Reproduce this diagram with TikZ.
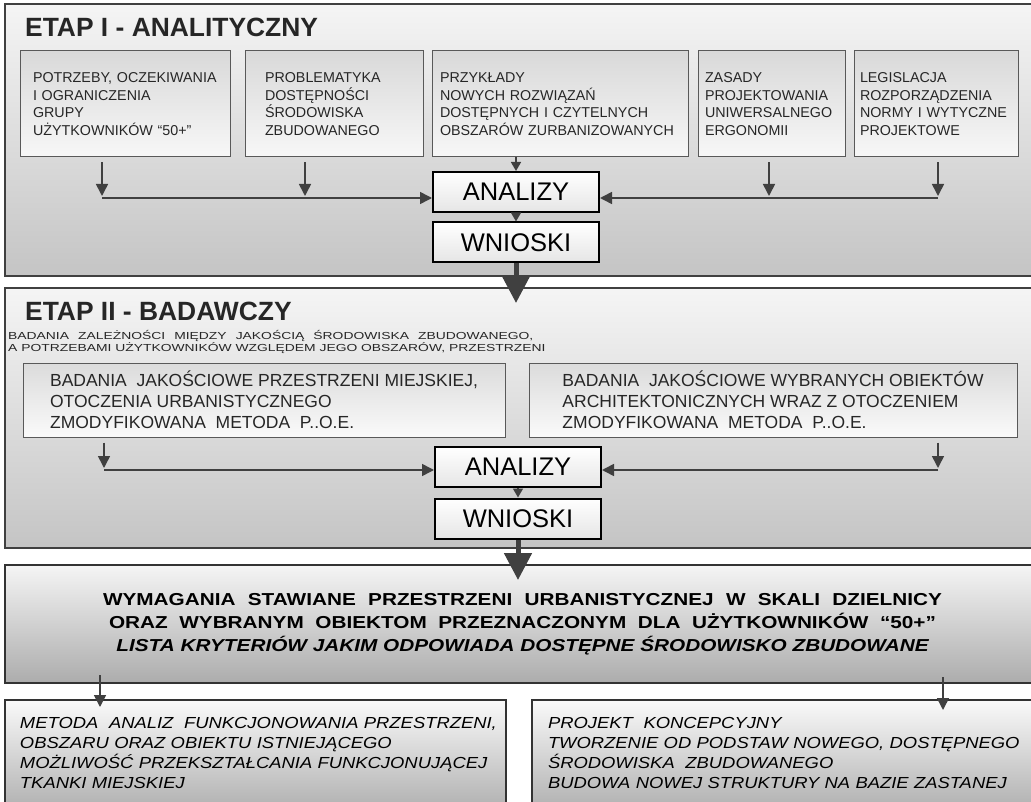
\documentclass[tikz,border=0pt]{standalone}
\usepackage{fontspec}
\setmainfont{Liberation Sans}
\newfontfamily\subfont[FakeStretch=1.36]{Liberation Sans}
\newfontfamily\reqfont[FakeStretch=1.2]{Liberation Sans}
\newfontfamily\lowfont[FakeStretch=1.15]{Liberation Sans}
\usetikzlibrary{arrows.meta}
\hyphenpenalty=10000

\begin{document}
\begin{tikzpicture}[x=1pt, y=-1pt,
  panel/.style={draw=black!75, line width=1.2pt, top color=gray!8, bottom color=gray!46, minimum width=1035pt, inner sep=0pt},
  title/.style={anchor=base west, inner sep=0pt, text=black!85, font=\bfseries\fontsize{26.4pt}{30pt}\selectfont},
  srcbox/.style={draw=black!65, line width=1pt, top color=gray!30, bottom color=gray!6, align=left, minimum height=106pt, text=black!85, font=\fontsize{14.3pt}{17.5pt}\selectfont},
  studybox/.style={draw=black!65, line width=1pt, top color=gray!28, bottom color=gray!4, align=left, minimum height=74pt, text=black!85, font=\fontsize{17.5pt}{21pt}\selectfont},
  resbox/.style={draw=black, line width=2pt, top color=white, bottom color=gray!20, minimum width=166pt, minimum height=40pt, inner sep=0pt, font=\fontsize{25.5pt}{28pt}\selectfont},
  reqbox/.style={draw=black!80, line width=2pt, top color=gray!8, bottom color=gray!65, align=center, minimum width=1035pt, minimum height=118pt, font=\reqfont\bfseries\fontsize{17.3pt}{23pt}\selectfont},
  lowbox/.style={draw=black!80, line width=2pt, top color=gray!4, bottom color=gray!60, align=left, minimum height=106pt, font=\lowfont\itshape\fontsize{16pt}{19.7pt}\selectfont},
  arr/.style={draw=black!75, line width=1.6pt, -{Triangle[width=12pt,length=12pt]}},
  sarr/.style={draw=black!75, line width=1.6pt, -{Triangle[width=10pt,length=9pt]}},
  bigarr/.style={draw=black!75, line width=5pt, -{Triangle[width=27pt,length=27pt]}}
]
\useasboundingbox (0,0) rectangle (1031,802);
\clip (0,0) rectangle (1031,802);

\node[panel, minimum height=272pt] (etap1) at (522.5,140) {};
\node[panel, minimum height=260pt] (etap2) at (522.5,418) {};
\node[reqbox] (req) at (522.5,624) {\makebox[839pt][s]{WYMAGANIA STAWIANE PRZESTRZENI URBANISTYCZNEJ W SKALI DZIELNICY}\\
  \makebox[827pt][s]{ORAZ WYBRANYM OBIEKTOM PRZEZNACZONYM DLA UŻYTKOWNIKÓW “50+”}\\
  \itshape LISTA KRYTERIÓW JAKIM ODPOWIADA DOSTĘPNE ŚRODOWISKO ZBUDOWANE};
\node[lowbox, minimum width=501pt, text width=495pt, inner xsep=3pt] (m1) at (255.5,753) {\hspace*{12pt}METODA\ \ ANALIZ\ \ FUNKCJONOWANIA PRZESTRZENI,\\\hspace*{12pt}OBSZARU ORAZ OBIEKTU ISTNIEJĄCEGO\\\hspace*{12pt}MOŻLIWOŚĆ PRZEKSZTAŁCANIA FUNKCJONUJĄCEJ\\\hspace*{12pt}TKANKI MIEJSKIEJ};
\node[lowbox, minimum width=508pt, text width=476pt, inner xsep=16pt] (m2) at (786,753) {PROJEKT\ \ KONCEPCYJNY\\TWORZENIE OD PODSTAW NOWEGO, DOSTĘPNEGO\\ŚRODOWISKA\ \ ZBUDOWANEGO\\BUDOWA NOWEJ STRUKTURY NA BAZIE ZASTANEJ};

\node[title] (t1) at (25,37) {ETAP I - ANALITYCZNY};
\node[title] (t2) at (25,321) {ETAP II - BADAWCZY};
\node[anchor=north west, align=left, inner sep=0pt, text=black!85, font=\subfont\fontsize{10.2pt}{12.5pt}\selectfont] (sub) at (8,330) {\makebox[525pt][s]{BADANIA ZALEŻNOŚCI MIĘDZY JAKOŚCIĄ ŚRODOWISKA ZBUDOWANEGO,}\\A POTRZEBAMI UŻYTKOWNIKÓW WZGLĘDEM JEGO OBSZARÓW, PRZESTRZENI};

\node[srcbox, minimum width=210pt, text width=190pt, inner xsep=10pt] (p1) at (125,104) {\hspace*{3pt}POTRZEBY, OCZEKIWANIA\\\hspace*{3pt}I OGRANICZENIA\\\hspace*{3pt}GRUPY\\\hspace*{3pt}UŻYTKOWNIKÓW “50+”};
\node[srcbox, minimum width=178pt, text width=138pt, inner xsep=20pt] (p2) at (334,104) {PROBLEMATYKA\\DOSTĘPNOŚCI\\ŚRODOWISKA\\ZBUDOWANEGO};
\node[srcbox, minimum width=256pt, text width=240pt, inner xsep=8pt] (p3) at (560,104) {PRZYKŁADY\\NOWYCH ROZWIĄZAŃ\\DOSTĘPNYCH I CZYTELNYCH\\OBSZARÓW ZURBANIZOWANYCH};
\node[srcbox, minimum width=147pt, text width=133pt, inner xsep=7pt] (p4) at (771.5,104) {ZASADY\\PROJEKTOWANIA\\UNIWERSALNEGO\\ERGONOMII};
\node[srcbox, minimum width=164pt, text width=152pt, inner xsep=6pt] (p5) at (936,104) {LEGISLACJA\\ROZPORZĄDZENIA\\NORMY I WYTYCZNE\\PROJEKTOWE};

\node[resbox] (an1) at (516,192) {ANALIZY};
\node[resbox] (wn1) at (516,242.5) {WNIOSKI};

\node[studybox, minimum width=482pt] (s1) at (264,400) {BADANIA\ \ JAKOŚCIOWE PRZESTRZENI MIEJSKIEJ,\\OTOCZENIA URBANISTYCZNEGO\\ZMODYFIKOWANA\ \ METODA\ \ P..O.E.};
\node[studybox, minimum width=488pt] (s2) at (773,400) {BADANIA\ \ JAKOŚCIOWE WYBRANYCH OBIEKTÓW\\ARCHITEKTONICZNYCH WRAZ Z OTOCZENIEM\\ZMODYFIKOWANA\ \ METODA\ \ P..O.E.};

\node[resbox] (an2) at (518,467) {ANALIZY};
\node[resbox] (wn2) at (518,518.5) {WNIOSKI};

\coordinate (j1) at (102,198);
\coordinate (j2) at (305,198);
\coordinate (j4) at (769,198);
\coordinate (j5) at (938,198);
\coordinate (g1) at (516,303);
\coordinate (j6) at (104,470);
\coordinate (j7) at (938,470);
\coordinate (g2) at (518,580);
\coordinate (u1) at (100,675);
\coordinate (d1) at (100,707);
\coordinate (u2) at (943,677);
\coordinate (d2) at (943,710);

\draw[arr, shorten <=5pt, shorten >=2pt] (p1.south -| j1) -- (j1);
\draw[arr, shorten <=5pt, shorten >=2pt] (p2.south -| j2) -- (j2);
\draw[arr, shorten <=5pt, shorten >=2pt] (p4.south -| j4) -- (j4);
\draw[arr, shorten <=5pt, shorten >=2pt] (p5.south -| j5) -- (j5);
\draw[arr] (j1) -- (an1.west |- j1);
\draw[arr] (j5) -- (an1.east |- j5);
\draw[sarr] (p3.south -| an1.north) -- (an1.north);
\draw[sarr] (an1) -- (wn1);
\draw[bigarr] (wn1.south) -- (g1);

\draw[arr, shorten <=5pt, shorten >=2pt] (s1.south -| j6) -- (j6);
\draw[arr, shorten <=5pt, shorten >=2pt] (s2.south -| j7) -- (j7);
\draw[arr] (j6) -- (an2.west |- j6);
\draw[arr] (j7) -- (an2.east |- j7);
\draw[sarr] (an2) -- (wn2);
\draw[bigarr] (wn2.south) -- (g2);

\draw[arr] (u1) -- (d1);
\draw[arr] (u2) -- (d2);
\end{tikzpicture}
\end{document}
